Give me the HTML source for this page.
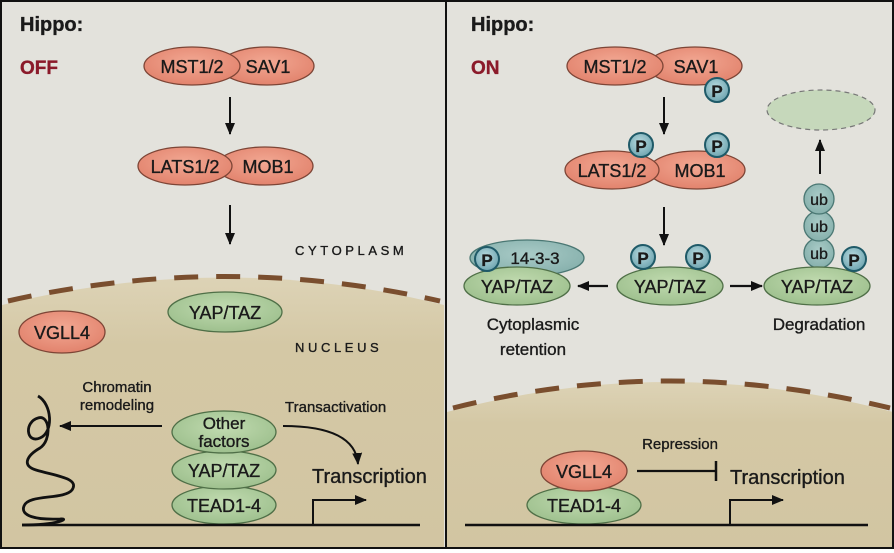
<!DOCTYPE html>
<html><head><meta charset="utf-8"><style>
html,body{margin:0;padding:0;background:#fff;}
svg{display:block;}
text{font-family:"Liberation Sans",Arial,sans-serif;fill:#1a1a1a;stroke:#1a1a1a;stroke-width:0.35px;}
</style></head><body>
<svg width="894" height="553" viewBox="0 0 894 553" xmlns="http://www.w3.org/2000/svg">
<defs>
<linearGradient id="nuc" x1="0" y1="0" x2="0" y2="1">
<stop offset="0" stop-color="#ddd3b6"/><stop offset="0.25" stop-color="#d4c8a5"/><stop offset="1" stop-color="#d2c5a2"/>
</linearGradient>
<radialGradient id="red" cx="0.5" cy="0.4" r="0.6"><stop offset="0" stop-color="#f2a893"/><stop offset="1" stop-color="#e2836d"/></radialGradient>
<radialGradient id="grn" cx="0.5" cy="0.4" r="0.6"><stop offset="0" stop-color="#c1dbb0"/><stop offset="1" stop-color="#9ec08e"/></radialGradient>
<radialGradient id="teal" cx="0.5" cy="0.4" r="0.6"><stop offset="0" stop-color="#a9cbc7"/><stop offset="1" stop-color="#86b0ac"/></radialGradient>
<radialGradient id="pp" cx="0.45" cy="0.4" r="0.6"><stop offset="0" stop-color="#b9dbe0"/><stop offset="1" stop-color="#6fa5b0"/></radialGradient>
<marker id="ah" markerWidth="14" markerHeight="14" refX="11" refY="6" orient="auto" markerUnits="userSpaceOnUse"><path d="M0,1 L12,6 L0,11 Z" fill="#111"/></marker>
</defs>
<rect x="0" y="0" width="894" height="553" fill="#fff"/>
<g>
<rect x="1" y="1" width="444" height="547" fill="#e3e2dc"/>
<path d="M2 305 Q225 250 444 305 L444 548 L2 548 Z" fill="url(#nuc)"/>
<path d="M8 301 Q225 252 440 301" fill="none" stroke="#7a4e2e" stroke-width="5" stroke-dasharray="24,18"/>
<text x="20" y="31" font-size="20" font-weight="bold">Hippo:</text>
<text x="20" y="74" font-size="19" font-weight="bold" style="fill:#8b1a2a;stroke:#8b1a2a">OFF</text>
<g>
<ellipse cx="267" cy="66" rx="47" ry="19" fill="url(#red)" stroke="#7d4536" stroke-width="1.3"/>
<ellipse cx="192" cy="66" rx="48" ry="19" fill="url(#red)" stroke="#7d4536" stroke-width="1.3"/>
<text x="192" y="73" font-size="18" text-anchor="middle">MST1/2</text>
<text x="268" y="73" font-size="18" text-anchor="middle">SAV1</text>
</g>
<line x1="230" y1="97" x2="230" y2="134" stroke="#111" stroke-width="2" marker-end="url(#ah)"/>
<g>
<ellipse cx="265" cy="166" rx="48" ry="19" fill="url(#red)" stroke="#7d4536" stroke-width="1.3"/>
<ellipse cx="185" cy="166" rx="47" ry="19" fill="url(#red)" stroke="#7d4536" stroke-width="1.3"/>
<text x="185" y="173" font-size="18" text-anchor="middle">LATS1/2</text>
<text x="268" y="173" font-size="18" text-anchor="middle">MOB1</text>
</g>
<line x1="230" y1="205" x2="230" y2="244" stroke="#111" stroke-width="2" marker-end="url(#ah)"/>
<text x="295" y="255" font-size="13" letter-spacing="3.6">CYTOPLASM</text>
<g>
<ellipse cx="225" cy="312" rx="57" ry="20" fill="url(#grn)" stroke="#4f6f47" stroke-width="1.3"/>
<text x="225" y="319" font-size="18" text-anchor="middle">YAP/TAZ</text>
</g>
<g>
<ellipse cx="62" cy="332" rx="43" ry="21" fill="url(#red)" stroke="#7d4536" stroke-width="1.3"/>
<text x="62" y="339" font-size="18" text-anchor="middle">VGLL4</text>
</g>
<text x="295" y="352" font-size="13" letter-spacing="3.6">NUCLEUS</text>
<text x="117" y="392" font-size="15" text-anchor="middle">Chromatin</text>
<text x="117" y="410" font-size="15" text-anchor="middle">remodeling</text>
<line x1="162" y1="426" x2="60" y2="426" stroke="#111" stroke-width="2" marker-end="url(#ah)"/>
<path d="M38 396 C52 404 54 432 40 438 C26 444 24 422 38 418 C50 414 52 440 40 448 C26 456 22 466 36 470 C56 476 80 478 72 490 C64 500 28 494 24 506 C20 516 36 520 60 519 C70 518 60 525 22 525" fill="none" stroke="#111" stroke-width="2.8"/>
<text x="285" y="412" font-size="15">Transactivation</text>
<path d="M283 426 C330 426 356 438 358 464" fill="none" stroke="#111" stroke-width="2" marker-end="url(#ah)"/>
<g>
<ellipse cx="224" cy="505" rx="52" ry="19" fill="url(#grn)" stroke="#4f6f47" stroke-width="1.3"/>
<ellipse cx="224" cy="470" rx="52" ry="19" fill="url(#grn)" stroke="#4f6f47" stroke-width="1.3"/>
<ellipse cx="224" cy="432" rx="52" ry="21" fill="url(#grn)" stroke="#4f6f47" stroke-width="1.3"/>
<text x="224" y="429" font-size="17" text-anchor="middle">Other</text>
<text x="224" y="447" font-size="17" text-anchor="middle">factors</text>
<text x="224" y="477" font-size="18" text-anchor="middle">YAP/TAZ</text>
<text x="224" y="512" font-size="18" text-anchor="middle">TEAD1-4</text>
</g>
<text x="312" y="483" font-size="20">Transcription</text>
<line x1="22" y1="525" x2="420" y2="525" stroke="#111" stroke-width="2.5"/>
<path d="M313 525 L313 500 L366 500" fill="none" stroke="#111" stroke-width="2" marker-end="url(#ah)"/>
</g>
<g>
<rect x="447" y="1" width="446" height="547" fill="#e3e2dc"/>
<path d="M447 412 Q668 352 893 412 L893 548 L447 548 Z" fill="url(#nuc)"/>
<path d="M453 408 Q668 354 890 408" fill="none" stroke="#7a4e2e" stroke-width="5" stroke-dasharray="24,18"/>
<text x="471" y="31" font-size="20" font-weight="bold">Hippo:</text>
<text x="471" y="74" font-size="19" font-weight="bold" style="fill:#8b1a2a;stroke:#8b1a2a">ON</text>
<g>
<ellipse cx="695" cy="66" rx="47" ry="19" fill="url(#red)" stroke="#7d4536" stroke-width="1.3"/>
<ellipse cx="615" cy="66" rx="48" ry="19" fill="url(#red)" stroke="#7d4536" stroke-width="1.3"/>
<text x="615" y="73" font-size="18" text-anchor="middle">MST1/2</text>
<text x="696" y="73" font-size="18" text-anchor="middle">SAV1</text>
</g>
<line x1="664" y1="97" x2="664" y2="134" stroke="#111" stroke-width="2" marker-end="url(#ah)"/>
<g>
<ellipse cx="697" cy="170" rx="48" ry="19" fill="url(#red)" stroke="#7d4536" stroke-width="1.3"/>
<ellipse cx="612" cy="170" rx="47" ry="19" fill="url(#red)" stroke="#7d4536" stroke-width="1.3"/>
<text x="612" y="177" font-size="18" text-anchor="middle">LATS1/2</text>
<text x="700" y="177" font-size="18" text-anchor="middle">MOB1</text>
</g>
<line x1="664" y1="207" x2="664" y2="245" stroke="#111" stroke-width="2" marker-end="url(#ah)"/>
<g>
<ellipse cx="821" cy="110" rx="54" ry="20" fill="#c6d8bb" stroke="#777" stroke-width="1.2" stroke-dasharray="5,4"/>
</g>
<line x1="820" y1="174" x2="820" y2="140" stroke="#111" stroke-width="2" marker-end="url(#ah)"/>
<g>
<circle cx="819" cy="253" r="15" fill="url(#teal)" stroke="#4a7773" stroke-width="1.3"/>
<circle cx="819" cy="226" r="15" fill="url(#teal)" stroke="#4a7773" stroke-width="1.3"/>
<circle cx="819" cy="199" r="15" fill="url(#teal)" stroke="#4a7773" stroke-width="1.3"/>
<text x="819" y="205" font-size="16" text-anchor="middle">ub</text>
<text x="819" y="232" font-size="16" text-anchor="middle">ub</text>
<text x="819" y="259" font-size="16" text-anchor="middle">ub</text>
</g>
<g>
<ellipse cx="527" cy="258" rx="57" ry="18" fill="url(#teal)" stroke="#4a7773" stroke-width="1.3"/>
<text x="535" y="264" font-size="17" text-anchor="middle">14-3-3</text>
</g>
<g>
<ellipse cx="517" cy="286" rx="53" ry="19" fill="url(#grn)" stroke="#4f6f47" stroke-width="1.3"/>
<text x="517" y="293" font-size="18" text-anchor="middle">YAP/TAZ</text>
</g>
<g>
<ellipse cx="670" cy="286" rx="53" ry="19" fill="url(#grn)" stroke="#4f6f47" stroke-width="1.3"/>
<text x="670" y="293" font-size="18" text-anchor="middle">YAP/TAZ</text>
</g>
<g>
<ellipse cx="817" cy="286" rx="53" ry="19" fill="url(#grn)" stroke="#4f6f47" stroke-width="1.3"/>
<text x="817" y="293" font-size="18" text-anchor="middle">YAP/TAZ</text>
</g>
<line x1="608" y1="286" x2="578" y2="286" stroke="#111" stroke-width="2.2" marker-end="url(#ah)"/>
<line x1="730" y1="286" x2="762" y2="286" stroke="#111" stroke-width="2.2" marker-end="url(#ah)"/>
<g>
<g><circle cx="717" cy="90" r="12" fill="url(#pp)" stroke="#1f5a68" stroke-width="2"/><text x="717" y="97" font-size="17" font-weight="bold" text-anchor="middle">P</text></g>
<g><circle cx="641" cy="145" r="12" fill="url(#pp)" stroke="#1f5a68" stroke-width="2"/><text x="641" y="152" font-size="17" font-weight="bold" text-anchor="middle">P</text></g>
<g><circle cx="717" cy="145" r="12" fill="url(#pp)" stroke="#1f5a68" stroke-width="2"/><text x="717" y="152" font-size="17" font-weight="bold" text-anchor="middle">P</text></g>
<g><circle cx="643" cy="257" r="12" fill="url(#pp)" stroke="#1f5a68" stroke-width="2"/><text x="643" y="264" font-size="17" font-weight="bold" text-anchor="middle">P</text></g>
<g><circle cx="698" cy="257" r="12" fill="url(#pp)" stroke="#1f5a68" stroke-width="2"/><text x="698" y="264" font-size="17" font-weight="bold" text-anchor="middle">P</text></g>
<g><circle cx="487" cy="259" r="12" fill="url(#pp)" stroke="#1f5a68" stroke-width="2"/><text x="487" y="266" font-size="17" font-weight="bold" text-anchor="middle">P</text></g>
<g><circle cx="854" cy="259" r="12" fill="url(#pp)" stroke="#1f5a68" stroke-width="2"/><text x="854" y="266" font-size="17" font-weight="bold" text-anchor="middle">P</text></g>
</g>
<text x="533" y="330" font-size="17" text-anchor="middle">Cytoplasmic</text>
<text x="533" y="355" font-size="17" text-anchor="middle">retention</text>
<text x="819" y="330" font-size="17" text-anchor="middle">Degradation</text>
<text x="680" y="449" font-size="15" text-anchor="middle">Repression</text>
<g>
<ellipse cx="584" cy="505" rx="57" ry="19" fill="url(#grn)" stroke="#4f6f47" stroke-width="1.3"/>
<ellipse cx="584" cy="471" rx="43" ry="20" fill="url(#red)" stroke="#7d4536" stroke-width="1.3"/>
<text x="584" y="478" font-size="18" text-anchor="middle">VGLL4</text>
<text x="584" y="512" font-size="18" text-anchor="middle">TEAD1-4</text>
</g>
<g>
<line x1="637" y1="471" x2="716" y2="471" stroke="#111" stroke-width="2.2"/>
<line x1="716" y1="461" x2="716" y2="481" stroke="#111" stroke-width="2.5"/>
</g>
<text x="730" y="484" font-size="20">Transcription</text>
<line x1="465" y1="525" x2="868" y2="525" stroke="#111" stroke-width="2.5"/>
<path d="M730 525 L730 500 L783 500" fill="none" stroke="#111" stroke-width="2" marker-end="url(#ah)"/>
</g>
<rect x="1" y="1" width="892" height="547" fill="none" stroke="#111" stroke-width="2"/>
<line x1="446" y1="1" x2="446" y2="548" stroke="#111" stroke-width="2"/>
</svg>
</body></html>
